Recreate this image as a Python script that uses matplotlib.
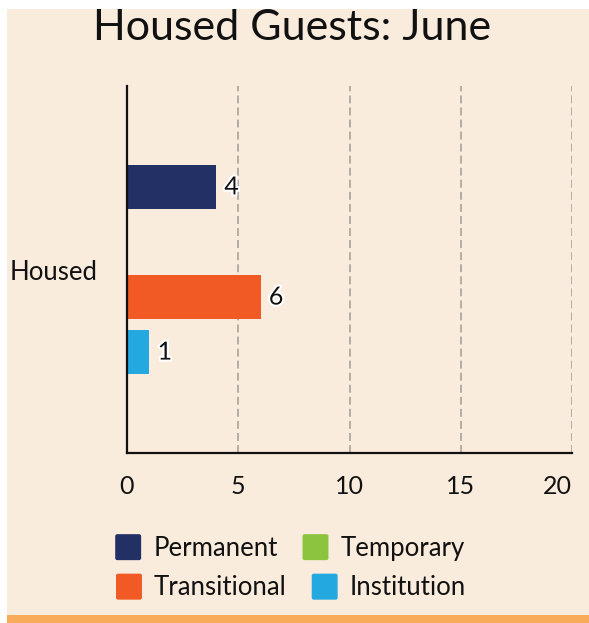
import matplotlib
matplotlib.use("Agg")
import matplotlib.pyplot as plt
import matplotlib.patheffects as pe
from matplotlib.patches import Rectangle, Patch, FancyBboxPatch
from matplotlib.legend_handler import HandlerPatch

plt.rcParams['font.family'] = ['Lato', 'DejaVu Sans']

# ---- data ----
title = "Housed Guests: June"
categories = ["Housed"]
series_names = ["Permanent", "Temporary", "Transitional", "Institution"]
series_values = [4, 0, 6, 1]
series_colors = ["#233066", "#8CC33F", "#F15A24", "#23A8E0"]
x_ticks = [0, 5, 10, 15, 20]

W, H = 589, 623
fig = plt.figure(figsize=(W / 100, H / 100), dpi=100, facecolor="white")

# background panels
beige = "#FAECDD"
fig.patches.append(Rectangle((7 / W, 8 / H), 1 - 7 / W, 1 - 17 / H, transform=fig.transFigure,
                             facecolor=beige, edgecolor="none", zorder=-10))
fig.patches.append(Rectangle((7 / W, 0), 1 - 7 / W, 8 / H, transform=fig.transFigure,
                             facecolor="#F8AC59", edgecolor="none", zorder=-10))

ax_l, ax_r, ax_t, ax_b = 127, 572, 86, 453
ax = fig.add_axes([ax_l / W, 1 - ax_b / H, (ax_r - ax_l) / W, (ax_b - ax_t) / H])
ax.set_facecolor("none")

n = len(series_names)
cat_pct, bar_pct = 0.6, 0.8
slot = cat_pct / n
for i, (name, val, col) in enumerate(zip(series_names, series_values, series_colors)):
    off = -cat_pct / 2 + slot * (i + 0.5)
    for c_i, _ in enumerate(categories):
        ax.barh(c_i + off, val, height=slot * bar_pct, color=col, zorder=3)
        if val:
            t = ax.annotate(str(val), (val, c_i + off), xytext=(6, 0), textcoords="offset points",
                            ha="left", va="center", fontsize=18, color="#111111", zorder=4)
            t.set_path_effects([pe.withStroke(linewidth=3, foreground="white")])

ax.set_xlim(0, 20)
ax.set_ylim(len(categories) - 0.5, -0.5)
ax.set_yticks(range(len(categories)))
ax.set_yticklabels(categories, fontsize=18.5, color="#111111")
ax.set_xticks(x_ticks)
ax.set_xticklabels([str(v) for v in x_ticks], fontsize=18, color="#111111")
ax.xaxis.get_ticklabels()[-1].set_horizontalalignment("right")
ax.tick_params(axis="x", length=0, pad=16)
ax.tick_params(axis="y", length=0, pad=21)

for v in x_ticks[1:]:
    ax.axvline(v, color="#B3ADA6", linestyle=(0, (4.1, 2.1)), linewidth=1.4, zorder=1)

for s in ["top", "right"]:
    ax.spines[s].set_visible(False)
for s in ["left", "bottom"]:
    ax.spines[s].set_linewidth(1.6)
    ax.spines[s].set_color("#111111")
    ax.spines[s].set_zorder(5)

fig.text(292 / W, 1 - 39.5 / H, title, ha="center", va="baseline", fontsize=31, color="#111111")


class RoundHandler(HandlerPatch):
    def create_artists(self, legend, orig_handle, xdescent, ydescent, width, height, fontsize, trans):
        p = FancyBboxPatch((-xdescent, -ydescent), width, height,
                           boxstyle="round,pad=0,rounding_size=1.5",
                           facecolor=orig_handle.get_facecolor(), edgecolor="none", transform=trans)
        return [p]


def make_handles(idx):
    return [Patch(facecolor=series_colors[i], edgecolor="none", label=series_names[i]) for i in idx]

leg_kw = dict(ncol=2, frameon=False, fontsize=18.5, handlelength=1.01, handleheight=1.18,
              handletextpad=0.47, columnspacing=0.97, borderpad=0, borderaxespad=0,
              labelcolor="#111111", handler_map={Patch: RoundHandler()})
leg1 = fig.legend(handles=make_handles([0, 1]), loc="center", bbox_to_anchor=(290 / W, 1 - 547.5 / H), **leg_kw)
leg2 = fig.legend(handles=make_handles([2, 3]), loc="center", bbox_to_anchor=(291 / W, 1 - 587 / H), **leg_kw)

fig.savefig("out.png", dpi=100, facecolor="white")
